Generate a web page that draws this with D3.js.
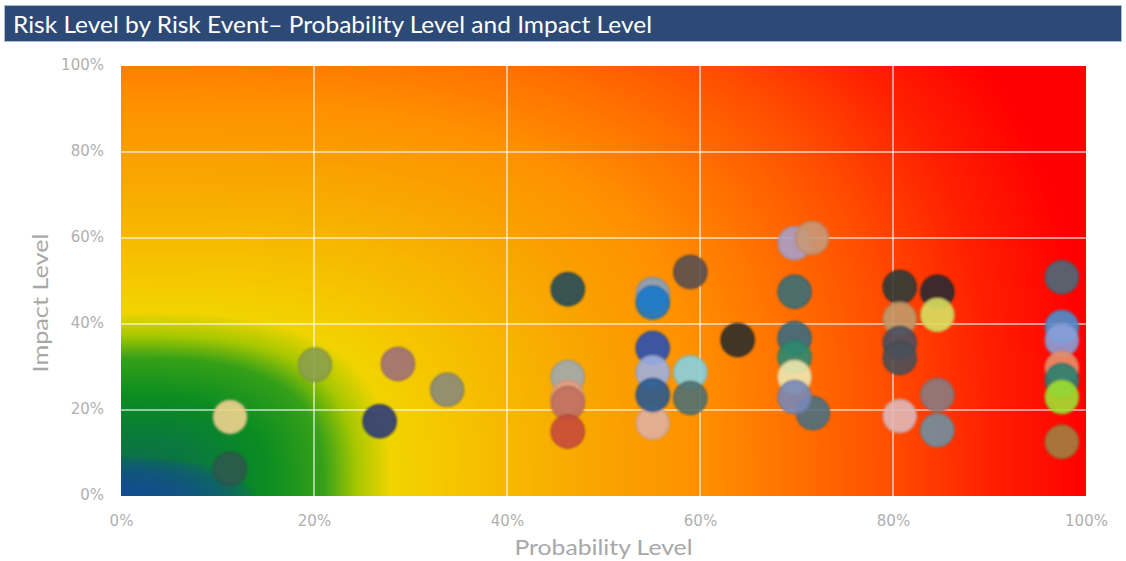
<!DOCTYPE html>
<html>
<head>
<meta charset="utf-8">
<script src="https://cdn.jsdelivr.net/npm/d3@7"></script>
<style>
  html, body { margin: 0; padding: 0; background: #ffffff; }
  svg { display: block; }
</style>
</head>
<body>
<svg id="chart" width="1126" height="561"></svg>
<script>
// Risk events: probability (x) and impact (y), both as fractions
const probability = [
  0.113, 0.113,
  0.201, 0.287, 0.338, 0.268,
  0.463, 0.463, 0.463, 0.463, 0.463,
  0.551, 0.551, 0.551, 0.551, 0.551, 0.551,
  0.590, 0.590, 0.590,
  0.639,
  0.698, 0.716, 0.698, 0.698, 0.698, 0.698, 0.717, 0.698,
  0.807, 0.807, 0.807, 0.807, 0.807,
  0.846, 0.846, 0.846, 0.846,
  0.975, 0.975, 0.975, 0.975, 0.975, 0.975, 0.975
];
const impact = [
  0.184, 0.063,
  0.305, 0.307, 0.247, 0.174,
  0.481, 0.277, 0.230, 0.216, 0.150,
  0.470, 0.450, 0.344, 0.288, 0.170, 0.235,
  0.521, 0.288, 0.228,
  0.363,
  0.588, 0.600, 0.475, 0.367, 0.323, 0.277, 0.193, 0.230,
  0.486, 0.412, 0.356, 0.321, 0.186,
  0.475, 0.421, 0.235, 0.153,
  0.509, 0.393, 0.363, 0.298, 0.270, 0.230, 0.126
];
const pointColors = [
  "#f0d38e", "#2f5a4e",
  "#8aa04e", "#a0707a", "#8a8a78", "#2c3c78",
  "#244a5a", "#a0a8b0", "#e8a080", "#c07060", "#c84a3a",
  "#8aa0c0", "#1a78c8", "#2a50b0", "#a0b0e0", "#e0b0a0", "#2a5a90",
  "#5a4f50", "#88d0e0", "#507070",
  "#2e2e2a",
  "#a8a0c8", "#c89878", "#3a6e78", "#3c6a80", "#2e8a70", "#f0e8b0", "#4e7080", "#7888b8",
  "#2e3a38", "#c09a6a", "#4a5060", "#4a5058", "#e0b8b8",
  "#2a2a30", "#d8e060", "#8a7a80", "#7090a0",
  "#4a6a78", "#4a90d0", "#8aa0d8", "#e8906a", "#2a8070", "#a0e030", "#a08040"
];
const tickValues = [0, 0.2, 0.4, 0.6, 0.8, 1.0];

const chartTitle = "Risk Level by Risk Event\u2013 Probability Level and Impact Level";
const xTitle = "Probability Level";
const yTitle = "Impact Level";

const svg = d3.select("#chart");
const plot = { left: 121, right: 1086, top: 66, bottom: 496 };
const pw = plot.right - plot.left, ph = plot.bottom - plot.top;

const x = d3.scaleLinear().domain([0, 1]).range([plot.left, plot.right]);
const y = d3.scaleLinear().domain([0, 1]).range([plot.bottom, plot.top]);

// Heat-map backdrop: colour grows with a rounded distance from the low-risk corner
const heatColor = d3.scaleLinear()
  .domain([0.00, 0.09, 0.15, 0.21, 0.245, 0.28, 0.32, 0.42, 0.52, 0.60, 0.70, 0.80, 0.90, 1.00])
  .range(["#0c6458", "#0a7a3c", "#0a8c22", "#35a018", "#a8c800", "#f0d400", "#f5ca00",
          "#f7b400", "#fa9f00", "#ff9000", "#ff7000", "#ff4c00", "#ff2000", "#ff0000"])
  .clamp(true);
const poolColor = d3.rgb("#124c8e");
const lutSize = 2048;
const lut = d3.range(lutSize).map(i => d3.rgb(heatColor(i / (lutSize - 1) * 1.3)));

const canvas = document.createElement("canvas");
canvas.width = pw; canvas.height = ph;
const ctx = canvas.getContext("2d");
const img = ctx.createImageData(pw, ph);
const ky = 0.68 * pw;
for (let py = 0; py < ph; py++) {
  const dy = ph - (py + 0.5);
  const v = dy / ky, v3 = v * v * v;
  for (let px = 0; px < pw; px++) {
    const dx = px + 0.5;
    const u = dx / pw;
    const t = Math.cbrt(u * u * u + v3);
    const c = lut[Math.min(lutSize - 1, Math.round(t / 1.3 * (lutSize - 1)))];
    let r = c.r, g = c.g, b = c.b;
    const e = (dx / 135) * (dx / 135) + (dy / 40) * (dy / 40);
    if (e < 1) {
      const w = Math.pow(1 - e, 0.7) * 0.95;
      r = r + (poolColor.r - r) * w;
      g = g + (poolColor.g - g) * w;
      b = b + (poolColor.b - b) * w;
    }
    const k = (py * pw + px) * 4;
    img.data[k] = r; img.data[k + 1] = g; img.data[k + 2] = b; img.data[k + 3] = 255;
  }
}
ctx.putImageData(img, 0, 0);

const defs = svg.append("defs");
const soft = defs.append("filter").attr("id", "soft")
  .attr("x", "-20%").attr("y", "-20%").attr("width", "140%").attr("height", "140%");
soft.append("feGaussianBlur").attr("stdDeviation", 1);

// Title banner
svg.append("rect")
  .attr("x", 4.5).attr("y", 5.5).attr("width", 1117).attr("height", 36)
  .attr("fill", "#2d4a76").attr("stroke", "#a9bcd6").attr("stroke-width", 1);
svg.append("text")
  .attr("x", 13).attr("y", 33)
  .attr("fill", "#ffffff")
  .attr("textLength", 639).attr("lengthAdjust", "spacingAndGlyphs")
  .style("font-family", "Lato, 'Open Sans', sans-serif")
  .style("font-size", "24px")
  .text(chartTitle);

// Plot backdrop
svg.append("image")
  .attr("x", plot.left).attr("y", plot.top)
  .attr("width", pw).attr("height", ph)
  .attr("preserveAspectRatio", "none")
  .attr("href", canvas.toDataURL());

// Gridlines
const grid = svg.append("g").attr("stroke", "#ffffff").attr("stroke-opacity", 0.75).attr("stroke-width", 1.5);
grid.selectAll(".gx").data(tickValues.slice(1, -1)).join("line")
  .attr("x1", d => x(d)).attr("x2", d => x(d))
  .attr("y1", plot.top).attr("y2", plot.bottom);
grid.selectAll(".gy").data(tickValues.slice(1, -1)).join("line")
  .attr("x1", plot.left).attr("x2", plot.right)
  .attr("y1", d => y(d)).attr("y2", d => y(d));

// Axes
const fmt = d3.format(".0%");
const xAxis = svg.append("g")
  .attr("transform", `translate(0,${plot.bottom + 11})`)
  .call(d3.axisBottom(x).tickValues(tickValues).tickFormat(fmt).tickSize(0).tickPadding(8));
const yAxis = svg.append("g")
  .attr("transform", `translate(${plot.left - 17},0)`)
  .call(d3.axisLeft(y).tickValues(tickValues).tickFormat(fmt).tickSize(0).tickPadding(0));
[xAxis, yAxis].forEach(a => {
  a.select(".domain").remove();
  a.selectAll("text")
    .attr("fill", "#b0b0b0")
    .style("font-family", "'DejaVu Sans', sans-serif")
    .style("font-size", "15px");
});
yAxis.selectAll(".tick text").attr("dy", "0.2em");

svg.append("text")
  .attr("x", (plot.left + plot.right) / 2).attr("y", 555)
  .attr("text-anchor", "middle")
  .attr("fill", "#a8a8a8")
  .attr("textLength", 178).attr("lengthAdjust", "spacingAndGlyphs")
  .style("font-family", "Lato, 'Open Sans', sans-serif")
  .style("font-size", "22px")
  .text(xTitle);
svg.append("text")
  .attr("transform", `translate(48,${303}) rotate(-90)`)
  .attr("text-anchor", "middle")
  .attr("fill", "#a8a8a8")
  .attr("textLength", 139).attr("lengthAdjust", "spacingAndGlyphs")
  .style("font-family", "Lato, 'Open Sans', sans-serif")
  .style("font-size", "22px")
  .text(yTitle);

// Risk event bubbles, each with a slightly darker rim
const events = probability.map((p, i) => ({ p, v: impact[i], c: pointColors[i] }));
svg.append("g").attr("filter", "url(#soft)")
  .selectAll("circle").data(events).join("circle")
  .attr("cx", d => x(d.p))
  .attr("cy", d => y(d.v))
  .attr("r", 16.5)
  .attr("fill", d => d.c)
  .attr("fill-opacity", 0.9)
  .attr("stroke", d => d3.color(d.c).darker(0.35))
  .attr("stroke-opacity", 0.7)
  .attr("stroke-width", 2);
</script>
</body>
</html>
